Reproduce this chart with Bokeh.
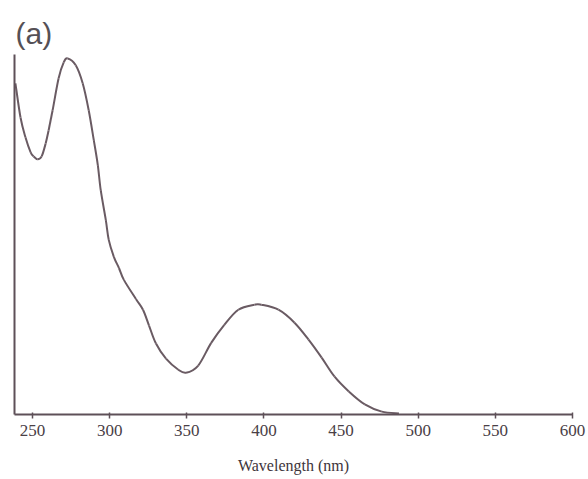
import numpy as np
from bokeh.plotting import figure
from bokeh.models import Range1d, FixedTicker
from bokeh.embed import file_html
from bokeh.resources import INLINE

# Absorption spectrum (arbitrary absorbance units)
wavelength_nm = [238.9, 242.2, 245.4, 248.7, 250.7, 253.3, 255.9, 258.5, 260.4, 263.0,
                 266.9, 270.2, 272.8, 278.0, 282.5, 286.4, 289.7, 292.3, 294.2, 297.5,
                 299.4, 302.7, 306.0, 309.2, 317.0, 321.6, 325.5, 330.0, 336.5, 344.3,
                 349.5, 357.4, 365.8, 374.3, 383.4, 393.8, 398.3, 409.4, 419.8, 428.9,
                 437.4, 445.8, 455.0, 465.4, 476.4, 487.5]
absorbance = [0.920, 0.825, 0.770, 0.729, 0.717, 0.709, 0.717, 0.753, 0.789, 0.845,
              0.934, 0.978, 0.989, 0.970, 0.920, 0.845, 0.762, 0.693, 0.623, 0.540,
              0.485, 0.438, 0.407, 0.374, 0.321, 0.291, 0.247, 0.197, 0.155, 0.125,
              0.116, 0.136, 0.199, 0.249, 0.291, 0.305, 0.305, 0.291, 0.255, 0.208,
              0.158, 0.105, 0.064, 0.028, 0.008, 0.003]
x_ticks = [250, 300, 350, 400, 450, 500, 550, 600]

ink = "#5e5058"

p = figure(width=586, height=476, output_backend="svg", toolbar_location=None,
           x_range=Range1d(238.3, 600), y_range=Range1d(0, 1.0),
           min_border_left=14, min_border_right=14, min_border_top=54,
           min_border_bottom=61, title="(a)")
p.title.text_font = "Liberation Sans"
p.title.text_font_size = "30px"
p.title.text_font_style = "normal"
p.title.text_color = "#555055"
p.title.offset = 1
p.title.standoff = 10

# smooth rendering of the read points: cubic Bezier segments through them
x = np.asarray(wavelength_nm, dtype=float)
y = np.asarray(absorbance, dtype=float)
xp = np.concatenate([[x[0]], x, [x[-1]]])
yp = np.concatenate([[y[0]], y, [y[-1]]])
x0, y0 = x[:-1], y[:-1]
x1, y1 = x[1:], y[1:]
cx0 = x0 + (xp[2:-1] - xp[:-3]) / 6.0
cy0 = y0 + (yp[2:-1] - yp[:-3]) / 6.0
cx1 = x1 - (xp[3:] - xp[1:-2]) / 6.0
cy1 = y1 - (yp[3:] - yp[1:-2]) / 6.0
p.bezier(x0=x0, y0=y0, x1=x1, y1=y1, cx0=cx0, cy0=cy0, cx1=cx1, cy1=cy1,
         line_color="#6a5b63", line_width=2)

p.grid.visible = False
p.outline_line_color = None
p.background_fill_color = "white"
p.border_fill_color = "white"

xa = p.xaxis[0]
xa.ticker = FixedTicker(ticks=x_ticks)
xa.minor_tick_line_color = None
xa.major_tick_in = 2
xa.major_tick_out = 4
xa.axis_line_color = ink
xa.axis_line_width = 2
xa.major_tick_line_color = ink
xa.major_tick_line_width = 1.5
xa.major_label_text_font = "Liberation Serif"
xa.major_label_text_font_size = "17px"
xa.major_label_text_color = "#4a4046"
xa.major_label_standoff = 6
xa.axis_label = "Wavelength (nm)"
xa.axis_label_text_font = "Liberation Serif"
xa.axis_label_text_font_size = "16px"
xa.axis_label_text_font_style = "normal"
xa.axis_label_text_color = "#3e353b"
xa.axis_label_standoff = 18

ya = p.yaxis[0]
ya.ticker = FixedTicker(ticks=[])
ya.minor_tick_line_color = None
ya.major_tick_line_color = None
ya.major_label_text_font_size = "0px"
ya.axis_line_color = ink
ya.axis_line_width = 2

open("out.html", "w").write(file_html(p, INLINE))
